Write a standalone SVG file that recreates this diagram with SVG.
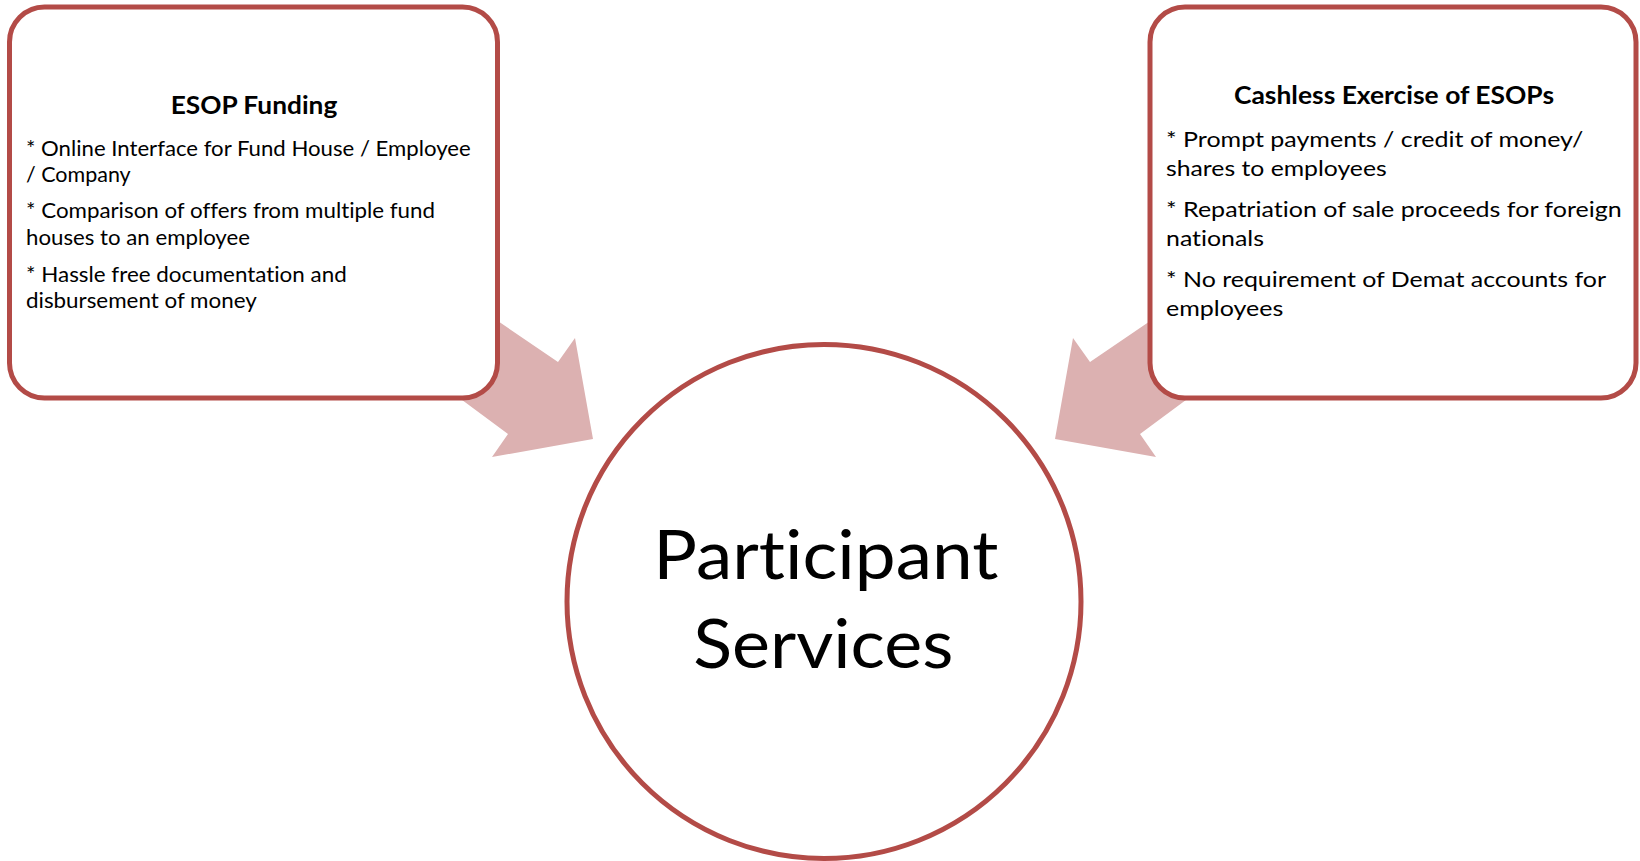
<svg xmlns="http://www.w3.org/2000/svg" width="1640" height="861" viewBox="0 0 1640 861">
<style>
.box{fill:#ffffff;stroke:#b34b47;stroke-width:5}
.arrow{fill:#dcb1b1;stroke:none}
.t{font-family:Lato,"Open Sans","Liberation Sans",sans-serif;fill:#000000;font-variant-ligatures:none;font-feature-settings:"liga" 0,"clig" 0}
.title{font-weight:bold}
.b1{font-size:20.5px}
.b2{font-size:22px}
.big{font-size:67px}
</style>
<rect width="1640" height="861" fill="#ffffff"/>
<g id="connectors">
<polygon class="arrow" points="420,268 558,362 575,338 593,439 492,457 508,434 400,354"/>
<polygon class="arrow" points="1228,268 1090,362 1073,338 1055,439 1156,457 1140,434 1248,354"/>
</g>
<g id="node-esop-funding">
<rect class="box" x="9.5" y="7" width="488" height="391" rx="35" ry="35"/>
<text class="t title" x="170.7" y="114.3" font-size="24px" textLength="166.6" lengthAdjust="spacingAndGlyphs">ESOP Funding</text>
<text class="t b1" x="26" y="156" textLength="444.7" lengthAdjust="spacingAndGlyphs">* Online Interface for Fund House / Employee</text>
<text class="t b1" x="26" y="181.5" textLength="104.7" lengthAdjust="spacingAndGlyphs">/ Company</text>
<text class="t b1" x="26" y="218.3" textLength="409" lengthAdjust="spacingAndGlyphs">* Comparison of offers from multiple fund</text>
<text class="t b1" x="26" y="245" textLength="224" lengthAdjust="spacingAndGlyphs">houses to an employee</text>
<text class="t b1" x="26" y="281.7" textLength="320.7" lengthAdjust="spacingAndGlyphs">* Hassle free documentation and</text>
<text class="t b1" x="26" y="308" textLength="230.7" lengthAdjust="spacingAndGlyphs">disbursement of money</text>
</g>
<g id="node-cashless-exercise">
<rect class="box" x="1150" y="7" width="486" height="391" rx="35" ry="35"/>
<text class="t title" x="1234" y="104.3" font-size="25px" textLength="320" lengthAdjust="spacingAndGlyphs">Cashless Exercise of ESOPs</text>
<text class="t b2" x="1166" y="147.3" textLength="417.3" lengthAdjust="spacingAndGlyphs">* Prompt payments / credit of money/</text>
<text class="t b2" x="1166" y="176" textLength="220.7" lengthAdjust="spacingAndGlyphs">shares to employees</text>
<text class="t b2" x="1166" y="217.3" textLength="455.7" lengthAdjust="spacingAndGlyphs">* Repatriation of sale proceeds for foreign</text>
<text class="t b2" x="1166" y="246" textLength="98" lengthAdjust="spacingAndGlyphs">nationals</text>
<text class="t b2" x="1166" y="287.3" textLength="440" lengthAdjust="spacingAndGlyphs">* No requirement of Demat accounts for</text>
<text class="t b2" x="1166" y="316" textLength="117.3" lengthAdjust="spacingAndGlyphs">employees</text>
</g>
<g id="node-participant-services">
<circle class="box" cx="824" cy="601.5" r="257"/>
<text class="t big" x="653.3" y="579.3" textLength="345" lengthAdjust="spacingAndGlyphs">Participant</text>
<text class="t big" x="693.3" y="668.3" textLength="260" lengthAdjust="spacingAndGlyphs">Services</text>
</g>
</svg>
